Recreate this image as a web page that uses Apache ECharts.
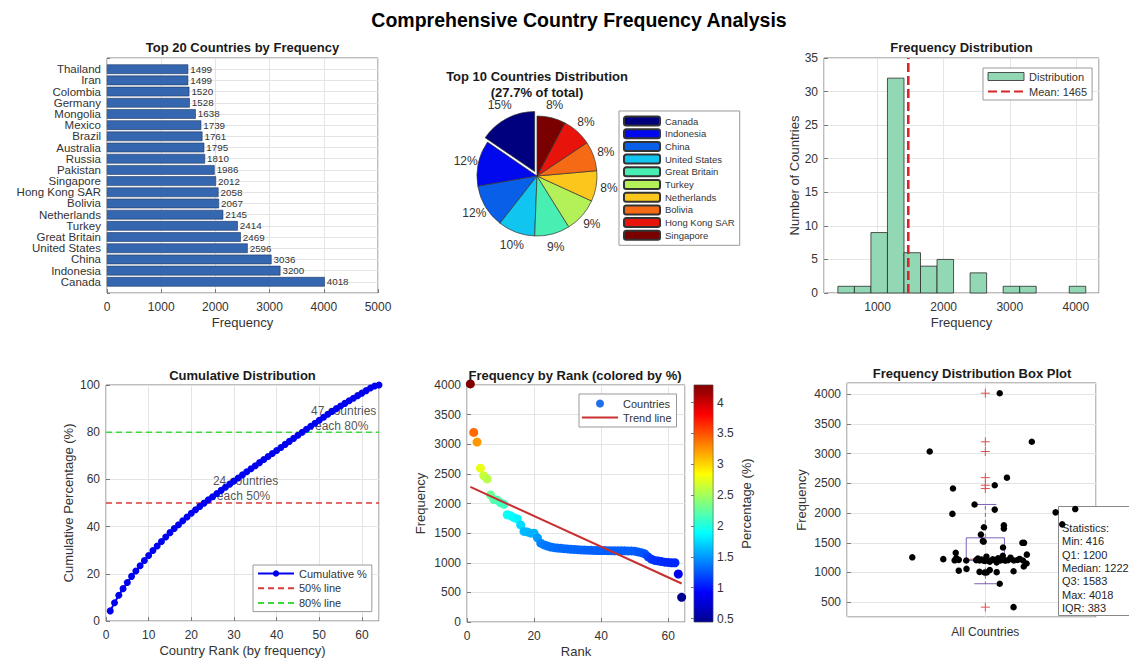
<!DOCTYPE html>
<html><head><meta charset="utf-8">
<script src="https://cdn.jsdelivr.net/npm/echarts@6/dist/echarts.min.js"></script>
<style>html,body{margin:0;padding:0;background:#fff}#c{width:1129px;height:662px}</style>
</head><body><div id="c"></div>
<script>
// ---------------- DATA ----------------
const topCountries = ['Canada','Indonesia','China','United States','Great Britain','Turkey','Netherlands','Bolivia','Hong Kong SAR','Singapore','Pakistan','Russia','Australia','Brazil','Mexico','Mongolia','Germany','Colombia','Iran','Thailand'];
const topFrequency = [4018,3200,3036,2596,2469,2414,2145,2067,2058,2012,1986,1810,1795,1761,1739,1638,1528,1520,1499,1499];
const otherFrequency = [1420,1330,1300,1282,1266,1255,1249,1244,1238,1233,1228,1224,1220,1217,1214,1212,1210,1208,1207,1206,1205,1204,1203,1202,1202,1201,1201,1200,1200,1196,1182,1170,1150,1100,1060,1040,1030,1020,1010,1005,1000,1000,810,416];
// horizontal jitter of each country's dot in the box plot, by rank
const boxJitterX = [1.052,1.168,0.799,1.078,1.034,0.883,0.961,1.325,1.034,1.254,0.881,1.278,1.067,0.995,1.067,0.984,0.991,0.994,1.134,1.140,1.064,0.893,1.150,1.063,
  1.004,0.736,1.091,0.895,1.046,0.973,1.124,0.848,1.027,0.986,1.064,0.904,1.116,0.967,1.036,0.991,1.082,0.889,1.055,0.931,1.103,0.979,1.136,1.009,1.072,0.997,1.016,1.041,1.149,
  1.139,0.932,1.016,0.904,1.102,0.979,1.041,0.997,1.005,1.052,1.102];
const histBinStart = 400;
const histBinWidth = 250;
const histBinCount = 15;
const pieTopN = 10;

// ---------------- STYLE ----------------
const FONT = '"Liberation Sans", Arial, Helvetica, sans-serif';
const TXT = '#333333';
const FRAME = '#7a7a7a';
const GRIDLINE = '#e4e4e4';
const pieColors = ['#00007f','#0008ee','#0a5fe8','#10c6f0','#48eeb2','#b4f058','#fcc71c','#f56a14','#e8140c','#7a0000'];
const JET = ['#00008f','#0000ff','#0080ff','#00ffff','#80ff80','#ffff00','#ff8000','#ff0000','#800000'];
const BOX_COLOR = '#7f63b8';
const OUT_COLOR = '#e05050';
const CLEAR = 'rgba(0,0,0,0)';

// ---------------- DERIVED ----------------
const freq = topFrequency.concat(otherFrequency);
const n = freq.length;
const total = freq.reduce((a,b)=>a+b,0);
const mean = total / n;
const ranks = freq.map((_,i)=>i+1);
const pct = freq.map(f => f / total * 100);
const pctMin = Math.min(...pct), pctMax = Math.max(...pct);
let run = 0;
const cum = freq.map(f => (run += f) / total * 100);
const n50 = cum.findIndex(c => c >= 50) + 1;
const n80 = cum.findIndex(c => c >= 80) + 1;
const histData = [];
for (let b = 0; b < histBinCount; b++) {
  const x0 = histBinStart + b*histBinWidth, x1 = x0 + histBinWidth;
  histData.push([x0, x1, freq.filter(f => f >= x0 && f < x1).length]);
}
// linear trend
const mx = ranks.reduce((a,b)=>a+b,0)/n, my = mean;
let sxy = 0, sxx = 0;
ranks.forEach((r,i)=>{ sxy += (r-mx)*(freq[i]-my); sxx += (r-mx)*(r-mx); });
const slope = sxy/sxx, icpt = my - slope*mx;
// MATLAB-style quantiles
const asc = freq.slice().sort((a,b)=>a-b);
function quant(p){ const pos = n*p + 0.5; const lo = Math.floor(pos), fr = pos - lo; return asc[lo-1] + fr*((asc[lo]||asc[lo-1]) - asc[lo-1]); }
const q1 = quant(0.25), med = quant(0.5), q3 = quant(0.75), iqr = q3 - q1;
const upLim = q3 + 1.5*iqr, loLim = q1 - 1.5*iqr;
const whiskHi = Math.max(...freq.filter(f => f <= upLim));
const whiskLo = Math.min(...freq.filter(f => f >= loLim));
const outliers = freq.filter(f => f > upLim || f < loLim);
const top10Sum = topFrequency.slice(0,pieTopN).reduce((a,b)=>a+b,0);
const meanName = 'Mean: ' + Math.round(mean);
const statsText = ['Statistics:', 'Min: ' + asc[0], 'Q1: ' + Math.round(q1), 'Median: ' + Math.round(med), 'Q3: ' + Math.round(q3), 'Max: ' + asc[n-1], 'IQR: ' + Math.round(iqr)].join('\n');

// ---------------- HELPERS ----------------
function merge(a, b) {
  const out = Object.assign({}, a);
  for (const k in b) {
    const v = b[k];
    if (v && typeof v === 'object' && !Array.isArray(v) && a[k] && typeof a[k] === 'object' && !Array.isArray(a[k])) out[k] = merge(a[k], v);
    else out[k] = v;
  }
  return out;
}
const plainNum = v => String(Math.round(v * 1000) / 1000);
const axisBase = {
  type: 'value',
  axisLine: {show: false},
  axisTick: {show: true, inside: true, length: 4, lineStyle: {color: FRAME}},
  axisLabel: {color: TXT, fontSize: 12, fontFamily: FONT, margin: 8, formatter: plainNum},
  splitLine: {show: true, lineStyle: {color: GRIDLINE, width: 1}},
  nameLocation: 'middle',
  nameTextStyle: {color: TXT, fontSize: 13, fontFamily: FONT}
};
const ax = o => merge(axisBase, o);
const gridBase = {show: true, borderColor: FRAME, borderWidth: 1, backgroundColor: '#fff', containLabel: false, outerBoundsMode: 'none'};
const titleBase = {padding: 0, textAlign: 'center', textStyle: {fontFamily: FONT, fontSize: 13, fontWeight: 'bold', color: '#1a1a1a', lineHeight: 15}};
const legendBase = {orient: 'vertical', selectedMode: false, backgroundColor: '#fff', borderColor: '#999', borderWidth: 1, borderRadius: 0,
  textStyle: {color: TXT, fontFamily: FONT, fontSize: 11, lineHeight: 13}, itemWidth: 36, itemHeight: 8, itemGap: 2, padding: [2,5,2,4]};
const lineOnly = name => ({name: name, itemStyle: {opacity: 0, color: CLEAR, borderColor: CLEAR}});

// bar categories padded so bars sit inside a [0, 21] range like the reference
const barCats = [''].concat(topCountries, ['']);
const barVals = [null].concat(topFrequency, [null]);
const pieItems = (styled) => topCountries.slice(0,pieTopN).map((c,i) => ({name: c, value: topFrequency[i], selected: i === 0,
  itemStyle: styled ? {color: pieColors[i]} : {color: CLEAR, borderWidth: 0}}));
const pieLabelFmt = p => Math.round(p.value / top10Sum * 100) + '%';

const option = {
  animation: false,
  backgroundColor: '#fff',
  textStyle: {fontFamily: FONT},
  title: [
    merge(titleBase, {text: 'Comprehensive Country Frequency Analysis', left: 579, top: 9, textStyle: {fontSize: 19.5, lineHeight: 22, color: '#000'}}),
    merge(titleBase, {text: 'Top 20 Countries by Frequency', left: 242.5, top: 40}),
    merge(titleBase, {text: 'Top 10 Countries Distribution\n(' + (top10Sum/total*100).toFixed(1) + '% of total)', left: 537, top: 68, textStyle: {lineHeight: 16}}),
    merge(titleBase, {text: 'Frequency Distribution', left: 961.5, top: 40}),
    merge(titleBase, {text: 'Cumulative Distribution', left: 242.5, top: 367.5}),
    merge(titleBase, {text: 'Frequency by Rank (colored by %)', left: 575, top: 367.5}),
    merge(titleBase, {text: 'Frequency Distribution Box Plot', left: 972, top: 366}),
    {text: statsText, left: 1058, top: 506, padding: [15,8,1,4], backgroundColor: '#fff', borderColor: '#888', borderWidth: 1, z: 1,
      textStyle: {fontFamily: FONT, fontSize: 11, fontWeight: 'normal', lineHeight: 13.4, color: '#262626'}}
  ],
  legend: [
    merge(legendBase, {left: 619, top: 111, data: topCountries.slice(0,pieTopN), itemHeight: 9, itemGap: 0.7, padding: [4,5,4,4],
      textStyle: {fontSize: 9.5, lineHeight: 12}}),
    merge(legendBase, {left: 983, top: 68, data: [{name: 'Distribution', icon: 'rect', itemStyle: {borderWidth: 0.8}}, lineOnly(meanName)]}),
    merge(legendBase, {left: 253, top: 565, data: ['Cumulative %', lineOnly('50% line'), lineOnly('80% line')], itemGap: 1.8}),
    merge(legendBase, {left: 579, top: 394, data: ['Countries', lineOnly('Trend line')], itemGap: 1, padding: [3,5,3,2]})
  ],
  grid: [
    merge(gridBase, {left: 107, top: 58, width: 271, height: 235}),
    merge(gridBase, {left: 824, top: 58, width: 275, height: 235}),
    merge(gridBase, {left: 106, top: 385, width: 273, height: 236}),
    merge(gridBase, {left: 467, top: 385, width: 218, height: 237}),
    merge(gridBase, {left: 694, top: 385, width: 19, height: 237, borderWidth: 0.6}),
    merge(gridBase, {left: 847, top: 383, width: 249, height: 234})
  ],
  xAxis: [
    ax({gridIndex: 0, min: 0, max: 5000, interval: 1000, name: 'Frequency', nameGap: 23}),
    ax({gridIndex: 1, min: 190, max: 4350, splitNumber: 4, name: 'Frequency', nameGap: 23, axisLabel: {showMinLabel: false, showMaxLabel: false}}),
    ax({gridIndex: 2, min: 0, max: 64, interval: 10, name: 'Country Rank (by frequency)', nameGap: 23, axisLabel: {showMaxLabel: false}}),
    ax({gridIndex: 3, min: 0, max: 65, interval: 20, name: 'Rank', nameGap: 23, axisLabel: {showMaxLabel: false}}),
    {gridIndex: 4, type: 'value', min: 0, max: 1, show: false},
    ax({gridIndex: 5, min: 0.5, max: 1.4, interval: 0.5, axisTick: {show: false},
      axisLabel: {margin: 9, showMinLabel: false, showMaxLabel: false, formatter: v => Math.abs(v - 1) < 1e-9 ? 'All Countries' : ''}})
  ],
  yAxis: [
    {gridIndex: 0, type: 'category', data: barCats, boundaryGap: false,
      axisLine: {show: false}, axisTick: {show: true, inside: true, length: 3, interval: 0, lineStyle: {color: FRAME}},
      axisLabel: {interval: 0, color: TXT, fontSize: 11.5, lineHeight: 11, fontFamily: FONT, margin: 6},
      splitLine: {show: true, interval: 0, lineStyle: {color: GRIDLINE}}},
    ax({gridIndex: 1, min: 0, max: 35, interval: 5, name: 'Number of Countries', nameGap: 22, axisLabel: {margin: 6}}),
    ax({gridIndex: 2, min: 0, max: 100, interval: 20, name: 'Cumulative Percentage (%)', nameGap: 31, axisLabel: {margin: 6}}),
    ax({gridIndex: 3, min: 0, max: 4000, interval: 500, name: 'Frequency', nameGap: 40, axisLabel: {margin: 6}}),
    ax({gridIndex: 4, position: 'right', min: pctMin, max: pctMax, splitNumber: 8, splitLine: {show: false},
      axisTick: {length: 3}, axisLabel: {showMinLabel: false, showMaxLabel: false, margin: 4}, name: 'Percentage (%)', nameGap: 27}),
    ax({gridIndex: 5, min: 250, max: 4190, splitNumber: 8, name: 'Frequency', nameGap: 39, axisLabel: {showMinLabel: false, showMaxLabel: false, margin: 6}})
  ],
  visualMap: [{show: false, type: 'continuous', seriesIndex: 8, dimension: 2, min: pctMin, max: pctMax, inRange: {color: JET}}],
  series: [
    // 0 bar
    {type: 'bar', name: 'bars', xAxisIndex: 0, yAxisIndex: 0, data: barVals, barCategoryGap: '14%',
      itemStyle: {color: '#3566b0', borderColor: '#1d3560', borderWidth: 0.6},
      label: {show: true, position: 'right', distance: 2, fontSize: 9.8, color: '#333', fontFamily: FONT}, silent: true},
    // 1 pie
    {type: 'pie', name: 'pie', center: [537, 176], radius: 60, startAngle: 90, clockwise: false, selectedMode: 'single', selectedOffset: 5,
      avoidLabelOverlap: false, silent: true, data: pieItems(true),
      label: {show: false}, labelLine: {show: false},
      itemStyle: {borderColor: '#333', borderWidth: 0.7},
      select: {itemStyle: {borderColor: '#333', borderWidth: 0.7}}},
    // 2 histogram
    {type: 'custom', name: 'Distribution', xAxisIndex: 1, yAxisIndex: 1, data: histData, encode: {x: [0,1], y: 2},
      itemStyle: {color: '#93d8b4', borderColor: '#2b2b2b', borderWidth: 0.8},
      renderItem: (params, api) => {
        const c = api.value(2); if (!c) return null;
        const a = api.coord([api.value(0), c]), b = api.coord([api.value(1), 0]);
        return {type: 'rect', shape: {x: a[0], y: a[1], width: b[0]-a[0], height: b[1]-a[1]}, style: {fill: '#93d8b4', stroke: '#2b2b2b', lineWidth: 0.8}};
      }},
    // 3 mean line
    {type: 'line', name: meanName, xAxisIndex: 1, yAxisIndex: 1, data: [[mean, 0], [mean, 35]], symbol: 'none',
      lineStyle: {color: '#d7262b', width: 2.6, type: [9, 4]}, itemStyle: {color: CLEAR, borderColor: CLEAR}},
    // 4 cumulative
    {type: 'line', name: 'Cumulative %', xAxisIndex: 2, yAxisIndex: 2, data: cum.map((c,i) => [i+1, c]),
      symbol: 'circle', symbolSize: 7, clip: false, lineStyle: {color: '#0000f0', width: 2}, itemStyle: {color: '#0000f0', opacity: 1}},
    // 5, 6 threshold lines
    {type: 'line', name: '50% line', xAxisIndex: 2, yAxisIndex: 2, data: [[0, 50], [n, 50]], symbol: 'none',
      lineStyle: {color: '#d93b3b', width: 1.5, type: [6, 4]}, itemStyle: {color: CLEAR, borderColor: CLEAR}},
    {type: 'line', name: '80% line', xAxisIndex: 2, yAxisIndex: 2, data: [[0, 80], [n, 80]], symbol: 'none',
      lineStyle: {color: '#3cd83c', width: 1.5, type: [6, 4]}, itemStyle: {color: CLEAR, borderColor: CLEAR}},
    // 7 annotations
    {type: 'scatter', name: 'notes', xAxisIndex: 2, yAxisIndex: 2, symbolSize: 1, itemStyle: {color: CLEAR}, silent: true,
      data: [[n50, 56, n50 + ' countries\nreach 50%'], [n80, 86, n80 + ' countries\nreach 80%']],
      label: {show: true, position: 'right', distance: 4, align: 'left', fontSize: 12, lineHeight: 15, color: '#262626', fontFamily: FONT,
        formatter: p => p.value[2]}},
    // 8 rank scatter
    {type: 'scatter', name: 'Countries', xAxisIndex: 3, yAxisIndex: 3, data: ranks.map((r,i) => [r, freq[i], pct[i]]),
      encode: {x: 0, y: 1}, symbolSize: 9, clip: false, itemStyle: {color: '#1e6fe8', opacity: 1}},
    // 9 trend
    {type: 'line', name: 'Trend line', xAxisIndex: 3, yAxisIndex: 3, data: [[1, icpt + slope], [n, icpt + slope*n]], symbol: 'none',
      lineStyle: {color: '#c83030', width: 2}, itemStyle: {color: CLEAR, borderColor: CLEAR}},
    // 10 colorbar
    {type: 'custom', name: 'colorbar', xAxisIndex: 4, yAxisIndex: 4, data: [[pctMin, pctMax]], encode: {y: [0, 1]}, silent: true,
      renderItem: (params, api) => {
        const a = api.coord([0, api.value(1)]), b = api.coord([1, api.value(0)]);
        const stops = JET.map((c,i) => ({offset: 1 - i/(JET.length-1), color: c})).reverse();
        return {type: 'rect', shape: {x: a[0], y: a[1], width: b[0]-a[0], height: b[1]-a[1]},
          style: {fill: new echarts.graphic.LinearGradient(0, 0, 0, 1, stops), stroke: '#555', lineWidth: 0.5}};
      }},
    // 11 box
    {type: 'custom', name: 'box', xAxisIndex: 5, yAxisIndex: 5, data: [[1, whiskLo, q1, med, q3, whiskHi]], encode: {x: 0, y: [1,2,3,4,5]}, silent: true,
      renderItem: (params, api) => {
        const x = api.value(0), lo = api.value(1), b1 = api.value(2), md = api.value(3), b3 = api.value(4), hi = api.value(5);
        const hw = 0.069, cw = 0.04;
        const P = (xx, yy) => api.coord([xx, yy]);
        const line = (p, q, extra) => ({type: 'line', shape: {x1: p[0], y1: p[1], x2: q[0], y2: q[1]}, style: Object.assign({stroke: BOX_COLOR, lineWidth: 1}, extra || {})});
        const tl = P(x - hw, b3), br = P(x + hw, b1);
        return {type: 'group', children: [
          line(P(x, b3), P(x, hi), {lineDash: [4, 3]}),
          line(P(x, b1), P(x, lo), {lineDash: [4, 3]}),
          line(P(x - cw, hi), P(x + cw, hi)),
          line(P(x - cw, lo), P(x + cw, lo)),
          {type: 'rect', shape: {x: tl[0], y: tl[1], width: br[0]-tl[0], height: br[1]-tl[1]}, style: {fill: 'none', stroke: BOX_COLOR, lineWidth: 1}},
          line(P(x - hw, md), P(x + hw, md), {stroke: '#b04a7a'})
        ]};
      }},
    // 12 outliers
    {type: 'custom', name: 'outliers', xAxisIndex: 5, yAxisIndex: 5, data: outliers.map(v => [1, v]), encode: {x: 0, y: 1}, silent: true,
      renderItem: (params, api) => {
        const p = api.coord([api.value(0), api.value(1)]), s = 4.5;
        return {type: 'group', children: [
          {type: 'line', shape: {x1: p[0]-s, y1: p[1], x2: p[0]+s, y2: p[1]}, style: {stroke: OUT_COLOR, lineWidth: 1}},
          {type: 'line', shape: {x1: p[0], y1: p[1]-s, x2: p[0], y2: p[1]+s}, style: {stroke: OUT_COLOR, lineWidth: 1}}
        ]};
      }},
    // 13 jittered points
    {type: 'scatter', name: 'jitter', xAxisIndex: 5, yAxisIndex: 5, data: freq.map((f,i) => [boxJitterX[i], f]),
      symbolSize: 6.5, clip: false, itemStyle: {color: '#000', opacity: 1}, silent: true},
    // 14 pie percentage labels (transparent ring, labels centred on the slice direction)
    {type: 'pie', name: 'pieLabels', center: [537, 176], radius: [0, 140], startAngle: 90, clockwise: false, selectedMode: 'single', selectedOffset: 7,
      avoidLabelOverlap: false, silent: true, data: pieItems(false), z: 3,
      label: {show: true, position: 'inside', fontSize: 12, color: TXT, fontFamily: FONT, formatter: pieLabelFmt},
      labelLine: {show: false}, select: {itemStyle: {color: CLEAR, borderWidth: 0}}, emphasis: {disabled: true}}
  ]
};
const chart = echarts.init(document.getElementById('c'), null, {renderer: 'svg'});
chart.setOption(option);
</script></body></html>
